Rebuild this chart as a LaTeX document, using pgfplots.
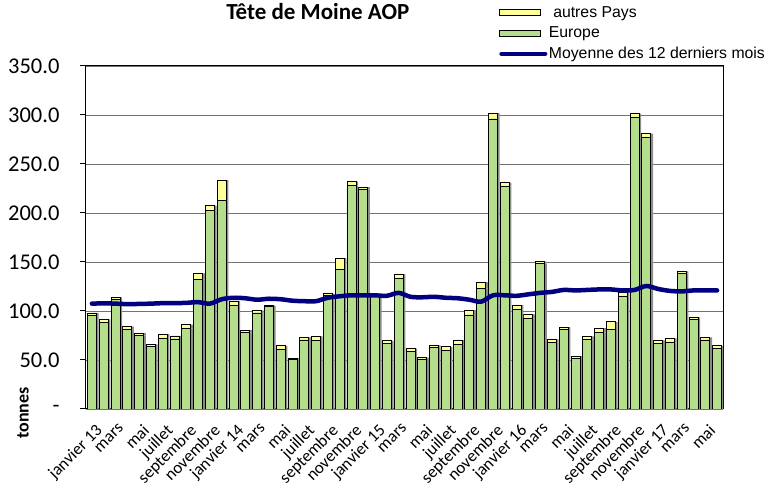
\documentclass[border=0pt]{standalone}
\usepackage{pgfplots}
\pgfplotsset{compat=1.18}
\usepackage{fontspec}
\setmainfont{Carlito}
\newfontfamily\arial{Liberation Sans}
\definecolor{eurgreen}{RGB}{181,222,140}
\definecolor{autyel}{RGB}{255,255,153}
\definecolor{navyl}{RGB}{0,0,128}
\begin{document}
\begin{tikzpicture}
\path[use as bounding box] (0,0) rectangle (769pt,490pt);
\begin{axis}[
  at={(86pt,81pt)}, anchor=south west,
  scale only axis, width=637pt, height=343pt,
  ybar stacked, bar width=9pt,
  xmin=0.5, xmax=54.5, ymin=0, ymax=350,
  ytick={0,50,...,350},
  yticklabels={-,50.0,100.0,150.0,200.0,250.0,300.0,350.0},
  yticklabel style={font=\fontsize{22.5}{24}\selectfont, xshift=-17pt},
  ymajorgrids, major grid style={draw=black!55, line width=0.8pt},
  major tick length=6pt,
  tick style={black, line width=1pt},
  ytick pos=left, ytick align=outside,
  xtick={1,3,...,53},
  xticklabels={janvier 13,mars,mai,juillet,septembre,novembre,janvier 14,mars,mai,juillet,septembre,novembre,janvier 15,mars,mai,juillet,septembre,novembre,janvier 16,mars,mai,juillet,septembre,novembre,janvier 17,mars,mai},
  xticklabel style={font=\fontsize{17}{19}\selectfont, rotate=45, anchor=north east, inner sep=1pt, xshift=-7pt, yshift=-11pt},
  x tick style={draw=none},
  extra x ticks={0.5,1.5,...,54.5},
  extra x tick labels={},
  extra x tick style={tick style={draw=black, line width=1pt}, major tick length=5pt, tick align=outside, xtick pos=bottom, grid=none},
  axis line style={black, line width=1pt},
  ylabel={\bfseries tonnes},
  ylabel style={font=\fontsize{18}{20}\selectfont, at={(axis description cs:-0.099,-0.012)}, anchor=center},
  title={\bfseries Tête de Moine AOP},
  title style={font=\fontsize{23}{26}\selectfont, at={(axis description cs:0.364,1.14)}, anchor=center},
  legend style={at={(axis description cs:0.648,1.178)}, anchor=north west, draw=none, fill=none,
    font=\arial\fontsize{15.8}{18}\selectfont, row sep=5pt, inner sep=0pt,
    nodes={inner sep=1.5pt}},
  legend cell align=left,
]
\addlegendimage{legend image code/.code={\draw[fill=autyel, draw=black, line width=0.8pt] (0pt,-3pt) rectangle (41pt,3pt);}}
\addlegendentry{\ autres Pays}
\addlegendimage{legend image code/.code={\draw[fill=eurgreen, draw=black, line width=0.8pt] (0pt,-3pt) rectangle (41pt,3pt);}}
\addlegendentry{Europe}
\addlegendimage{legend image code/.code={\draw[navyl, line width=4pt, line cap=round] (2pt,0pt) -- (46pt,0pt);}}
\addlegendentry{Moyenne des 12 derniers mois}

\addplot[fill=eurgreen, draw=black, line width=0.8pt,
  preaction={fill=black!45, draw=none, transform canvas={xshift=2.2pt}}] coordinates {
(1,95) (2,88) (3,112) (4,81) (5,75) (6,63.5) (7,72) (8,71.5) (9,82) (10,132)
(11,203) (12,212.5) (13,106) (14,78) (15,98) (16,105) (17,61) (18,50.5) (19,70.5) (20,69.5)
(21,116) (22,142) (23,228) (24,224) (25,116) (26,66.5) (27,133.5) (28,58.5) (29,51) (30,62.5)
(31,60) (32,66) (33,96) (34,123) (35,296) (36,227) (37,101.5) (38,92.5) (39,148.5) (40,68)
(41,81.5) (42,51.5) (43,71) (44,78) (45,81.5) (46,115) (47,297.5) (48,277.5) (49,66.5) (50,68)
(51,138.5) (52,91) (53,70.5) (54,61.5)
};
\addplot[fill=autyel, draw=black, line width=0.8pt,
  preaction={fill=black!45, draw=none, transform canvas={xshift=2.2pt}}] coordinates {
(1,3) (2,3.5) (3,2) (4,3) (5,2.5) (6,2.5) (7,4.5) (8,3) (9,4) (10,6.5)
(11,4.5) (12,21) (13,4) (14,2.5) (15,2.5) (16,0.5) (17,3.5) (18,1.5) (19,2.5) (20,4.5)
(21,1.5) (22,12) (23,4) (24,2.5) (25,1) (26,3) (27,4) (28,3) (29,1.5) (30,2.5)
(31,3.5) (32,4.5) (33,5) (34,6.5) (35,6) (36,4) (37,4.5) (38,4) (39,2) (40,3)
(41,2) (42,2.5) (43,3) (44,4.5) (45,7.5) (46,4) (47,4) (48,3.5) (49,3.5) (50,4)
(51,2) (52,2.5) (53,2.5) (54,3)
};
\end{axis}
\begin{axis}[
  at={(86pt,81pt)}, anchor=south west,
  scale only axis, width=637pt, height=343pt,
  xmin=0.5, xmax=54.5, ymin=0, ymax=350,
  axis lines=none, ticks=none,
]
\addplot[smooth, navyl, line width=4.5pt, line cap=round, no marks] coordinates {
(1,107.5) (2,107.8) (3,107.5) (4,107) (5,107.2) (6,107.5) (7,108) (8,108) (9,108.3) (10,109)
(11,107.5) (12,112) (13,113.5) (14,113) (15,111.5) (16,112.5) (17,112) (18,110.5) (19,110) (20,110)
(21,113.5) (22,115) (23,116) (24,116) (25,116) (26,115.5) (27,118.5) (28,114.5) (29,114) (30,114.5)
(31,113.5) (32,113) (33,111.5) (34,109.5) (35,116) (36,116) (37,115.5) (38,117) (39,118.5) (40,119.5)
(41,121.5) (42,121) (43,121.5) (44,122) (45,122) (46,121) (47,121.5) (48,125.5) (49,122.5) (50,120.5)
(51,120) (52,121) (53,121) (54,121)
};
\end{axis}
\end{tikzpicture}
\end{document}
